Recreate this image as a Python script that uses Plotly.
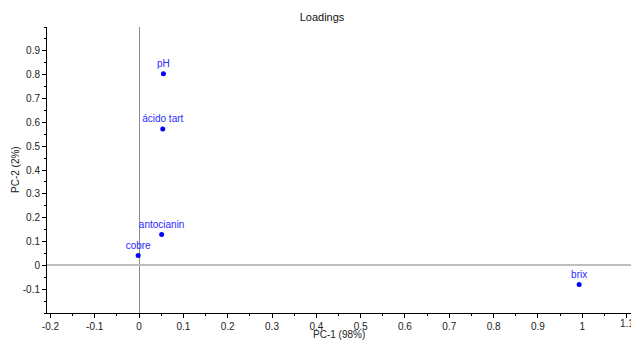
import plotly.graph_objects as go

names = ["pH", "ácido tart", "antocianin", "cobre", "brix"]
pc1 = [0.055, 0.0535, 0.051, -0.002, 0.993]
pc2 = [0.804, 0.572, 0.129, 0.041, -0.080]

x_ticks = [-0.2, -0.1, 0, 0.1, 0.2, 0.3, 0.4, 0.5, 0.6, 0.7, 0.8, 0.9, 1, 1.1]
x_labels = ["-0.2", "-0.1", "0", "0.1", "0.2", "0.3", "0.4", "0.5", "0.6", "0.7", "0.8", "0.9", "1", "1.1"]
y_ticks = [-0.1, 0, 0.1, 0.2, 0.3, 0.4, 0.5, 0.6, 0.7, 0.8, 0.9]
y_labels = ["-0.1", "0", "0.1", "0.2", "0.3", "0.4", "0.5", "0.6", "0.7", "0.8", "0.9"]

W, H = 631, 340
L, R, T, B = 47, 0, 27, 27

fig = go.Figure()
fig.add_trace(go.Scatter(
    x=pc1, y=pc2, mode="markers+text", text=names,
    textposition="top center",
    marker=dict(color="#0000ff", size=5),
    textfont=dict(color="#2a2aff", size=10, family="Liberation Sans, Arial"),
    hoverinfo="skip", showlegend=False, cliponaxis=False,
))

axis_font = dict(family="Liberation Sans, Arial", size=10, color="#222")
plot_h = H - T - B
fig.update_layout(
    width=W, height=H,
    margin=dict(l=L, r=R, t=T, b=B, pad=0, autoexpand=False),
    paper_bgcolor="white", plot_bgcolor="white",
    font=dict(family="Liberation Sans, Arial", size=10, color="#222"),
    title=dict(text="Loadings", x=322/W, xanchor="center", y=1-17/H, yanchor="middle",
               font=dict(size=11, color="#111")),
    xaxis=dict(
        range=[-0.2077, 1.11], showgrid=False, automargin=False,
        zeroline=True, zerolinecolor="#8c8c8c", zerolinewidth=1,
        showline=True, linecolor="black", linewidth=1,
        tickmode="array", tickvals=x_ticks, ticktext=x_labels,
        ticks="outside", ticklen=4, tickcolor="black", tickfont=axis_font,
        minor=dict(dtick=0.05, tick0=0, ticks="outside", ticklen=2, tickcolor="black"),
    ),
    yaxis=dict(
        range=[-0.2, 1.0], showgrid=False, automargin=False,
        zeroline=True, zerolinecolor="#bdbdbd", zerolinewidth=2,
        showline=True, linecolor="black", linewidth=1,
        tickmode="array", tickvals=y_ticks, ticktext=y_labels,
        ticks="outside", ticklen=4, tickcolor="black", tickfont=axis_font,
        minor=dict(dtick=0.05, tick0=0, ticks="outside", ticklen=2, tickcolor="black"),
    ),
    annotations=[
        dict(text="PC-1 (98%)", xref="paper", yref="paper", x=0.5, y=-(334 - (H - B)) / plot_h,
             xanchor="center", yanchor="middle", showarrow=False, font=axis_font),
        dict(text="PC-2 (2%)", xref="paper", yref="paper", x=-(47 - 15) / (W - L - R), y=0.5,
             xanchor="center", yanchor="middle", textangle=-90, showarrow=False, font=axis_font),
        dict(text=x_labels[-1], xref="x", yref="paper", x=x_ticks[-1], y=-(323.3 - (H - B)) / plot_h,
             xanchor="center", yanchor="middle", showarrow=False, font=axis_font),
    ],
)

fig.write_html("out.html", config={"displayModeBar": False, "staticPlot": True},
               post_script="document.body.style.margin='0';document.body.style.overflow='hidden';")
